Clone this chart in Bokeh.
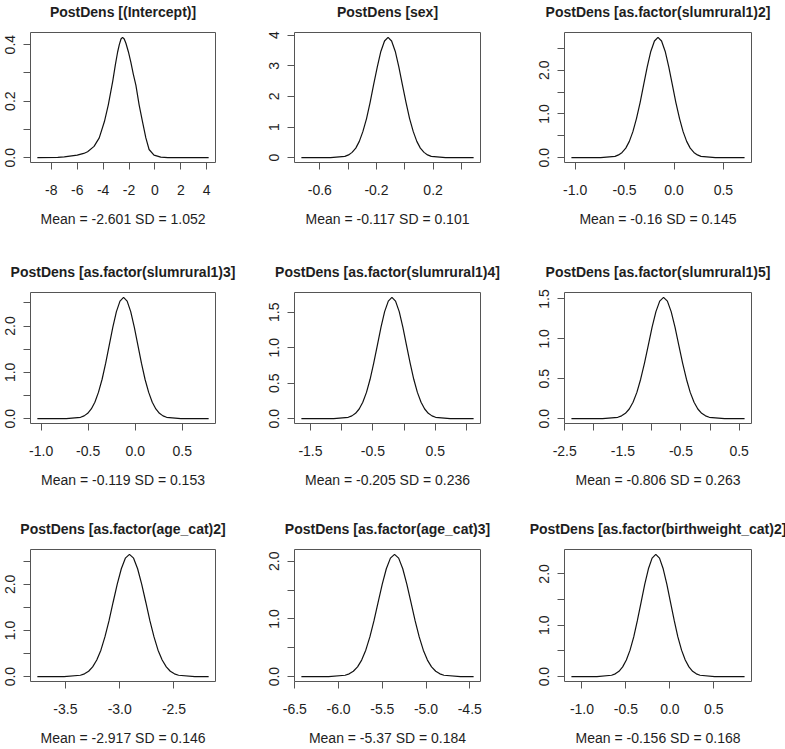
from bokeh.plotting import figure
from bokeh.layouts import column, row
from bokeh.models import Range1d, FixedTicker, Title
from bokeh.embed import file_html
from bokeh.resources import INLINE

# ---------------- data ----------------
titles = [
    "PostDens [(Intercept)]",
    "PostDens [sex]",
    "PostDens [as.factor(slumrural1)2]",
    "PostDens [as.factor(slumrural1)3]",
    "PostDens [as.factor(slumrural1)4]",
    "PostDens [as.factor(slumrural1)5]",
    "PostDens [as.factor(age_cat)2]",
    "PostDens [as.factor(age_cat)3]",
    "PostDens [as.factor(birthweight_cat)2]",
]
means = [-2.601, -0.117, -0.16, -0.119, -0.205, -0.806, -2.917, -5.37, -0.156]
sds = [1.052, 0.101, 0.145, 0.153, 0.236, 0.263, 0.146, 0.184, 0.168]

x_intercept = [-9.08, -7.5, -7.0, -6.0, -5.5, -5.2, -4.7, -4.3, -3.9, -3.6, -3.26, -3.05, -2.88,
               -2.75, -2.62, -2.5, -2.37, -2.24, -2.05, -1.86, -1.67, -1.47, -1.22, -0.96, -0.7,
               -0.45, -0.07, 0.45, 1.0, 4.15]
y_intercept = [0.0, 0.001, 0.003, 0.009, 0.015, 0.021, 0.04, 0.07, 0.128, 0.187, 0.27, 0.33, 0.374,
               0.40, 0.42, 0.426, 0.42, 0.405, 0.375, 0.338, 0.296, 0.257, 0.187, 0.128, 0.07,
               0.029, 0.009, 0.002, 0.0, 0.0]

x_sex = [-0.73, -0.524, -0.423, -0.397, -0.372, -0.346, -0.321, -0.296, -0.270, -0.245, -0.220,
         -0.194, -0.169, -0.143, -0.118, -0.093, -0.067, -0.042, -0.017, 0.009, 0.034, 0.060,
         0.085, 0.110, 0.136, 0.161, 0.187, 0.288, 0.486]
y_sex = [0.0, 0.001, 0.044, 0.090, 0.173, 0.313, 0.532, 0.850, 1.276, 1.799, 2.384, 2.966, 3.468,
         3.809, 3.93, 3.809, 3.468, 2.966, 2.384, 1.799, 1.276, 0.850, 0.532, 0.313, 0.173, 0.090,
         0.044, 0.001, 0.0]

x_slum2 = [-1.038, -0.742, -0.597, -0.561, -0.525, -0.488, -0.452, -0.416, -0.380, -0.343, -0.307,
           -0.271, -0.235, -0.198, -0.162, -0.126, -0.089, -0.053, -0.017, 0.019, 0.056, 0.092,
           0.128, 0.164, 0.201, 0.237, 0.273, 0.418, 0.714]
y_slum2 = [0.0, 0.001, 0.031, 0.063, 0.121, 0.219, 0.372, 0.595, 0.893, 1.259, 1.668, 2.076, 2.427,
           2.665, 2.75, 2.665, 2.427, 2.076, 1.668, 1.259, 0.893, 0.595, 0.372, 0.219, 0.121,
           0.063, 0.031, 0.001, 0.0]

x_slum3 = [-1.04, -0.733, -0.581, -0.543, -0.505, -0.467, -0.429, -0.391, -0.352, -0.314, -0.276,
           -0.238, -0.200, -0.162, -0.124, -0.086, -0.048, -0.010, 0.028, 0.066, 0.104, 0.143,
           0.181, 0.219, 0.257, 0.295, 0.333, 0.485, 0.78]
y_slum3 = [0.0, 0.001, 0.029, 0.060, 0.115, 0.209, 0.354, 0.567, 0.851, 1.199, 1.589, 1.978, 2.312,
           2.539, 2.62, 2.539, 2.312, 1.978, 1.589, 1.199, 0.851, 0.567, 0.354, 0.209, 0.115,
           0.060, 0.029, 0.001, 0.0]

x_slum4 = [-1.646, -1.128, -0.895, -0.837, -0.778, -0.720, -0.662, -0.603, -0.545, -0.487, -0.428,
           -0.370, -0.312, -0.253, -0.195, -0.137, -0.078, -0.020, 0.038, 0.097, 0.155, 0.213,
           0.272, 0.330, 0.388, 0.447, 0.505, 0.738, 1.114]
y_slum4 = [0.0, 0.001, 0.019, 0.039, 0.075, 0.136, 0.231, 0.370, 0.555, 0.783, 1.037, 1.291, 1.509,
           1.657, 1.71, 1.657, 1.509, 1.291, 1.037, 0.783, 0.555, 0.370, 0.231, 0.136, 0.075,
           0.039, 0.019, 0.001, 0.0]

x_slum5 = [-2.385, -1.850, -1.587, -1.522, -1.456, -1.390, -1.325, -1.259, -1.194, -1.128, -1.062,
           -0.997, -0.931, -0.866, -0.800, -0.734, -0.669, -0.603, -0.538, -0.472, -0.406, -0.341,
           -0.275, -0.210, -0.144, -0.078, -0.013, 0.250, 0.594]
y_slum5 = [0.0, 0.0, 0.017, 0.035, 0.067, 0.121, 0.206, 0.329, 0.494, 0.696, 0.922, 1.147, 1.341,
           1.473, 1.52, 1.473, 1.341, 1.147, 0.922, 0.696, 0.494, 0.329, 0.206, 0.121, 0.067,
           0.035, 0.017, 0.0, 0.0]

x_age2 = [-3.758, -3.512, -3.362, -3.324, -3.286, -3.249, -3.211, -3.173, -3.136, -3.098, -3.061,
          -3.023, -2.985, -2.948, -2.910, -2.872, -2.835, -2.797, -2.759, -2.722, -2.684, -2.647,
          -2.609, -2.571, -2.534, -2.496, -2.458, -2.308, -2.181]
y_age2 = [0.0, 0.001, 0.029, 0.060, 0.116, 0.211, 0.359, 0.573, 0.860, 1.213, 1.607, 2.000, 2.339,
          2.568, 2.65, 2.568, 2.339, 2.000, 1.607, 1.213, 0.860, 0.573, 0.359, 0.211, 0.116,
          0.060, 0.029, 0.001, 0.0]

x_age3 = [-6.425, -6.113, -5.925, -5.878, -5.831, -5.783, -5.736, -5.689, -5.642, -5.595, -5.548,
          -5.501, -5.454, -5.407, -5.360, -5.313, -5.266, -5.219, -5.172, -5.125, -5.078, -5.031,
          -4.984, -4.937, -4.889, -4.842, -4.795, -4.607, -4.456]
y_age3 = [0.0, 0.001, 0.024, 0.048, 0.093, 0.169, 0.287, 0.459, 0.688, 0.971, 1.286, 1.600, 1.871,
          2.055, 2.12, 2.055, 1.871, 1.600, 1.286, 0.971, 0.688, 0.459, 0.287, 0.169, 0.093,
          0.048, 0.024, 0.001, 0.0]

x_bw2 = [-1.12, -0.830, -0.663, -0.621, -0.579, -0.537, -0.495, -0.453, -0.411, -0.370, -0.328,
         -0.286, -0.244, -0.202, -0.160, -0.118, -0.076, -0.034, 0.008, 0.050, 0.091, 0.133,
         0.175, 0.217, 0.259, 0.301, 0.343, 0.510, 0.85]
y_bw2 = [0.0, 0.001, 0.026, 0.054, 0.104, 0.189, 0.322, 0.515, 0.773, 1.090, 1.443, 1.796, 2.100,
         2.307, 2.38, 2.307, 2.100, 1.796, 1.443, 1.090, 0.773, 0.515, 0.322, 0.189, 0.104,
         0.054, 0.026, 0.001, 0.0]

curves_x = [x_intercept, x_sex, x_slum2, x_slum3, x_slum4, x_slum5, x_age2, x_age3, x_bw2]
curves_y = [y_intercept, y_sex, y_slum2, y_slum3, y_slum4, y_slum5, y_age2, y_age3, y_bw2]

xticks = [
    [-8, -6, -4, -2, 0, 2, 4],
    [-0.6, -0.4, -0.2, 0.0, 0.2, 0.4],
    [-1.0, -0.5, 0.0, 0.5],
    [-1.0, -0.5, 0.0, 0.5],
    [-1.5, -1.0, -0.5, 0.0, 0.5, 1.0],
    [-2.5, -2.0, -1.5, -1.0, -0.5, 0.0, 0.5],
    [-3.5, -3.0, -2.5],
    [-6.5, -6.0, -5.5, -5.0, -4.5],
    [-1.0, -0.5, 0.0, 0.5],
]
xtick_labels = [
    ["-8", "-6", "-4", "-2", "0", "2", "4"],
    ["-0.6", "", "-0.2", "", "0.2", ""],
    ["-1.0", "-0.5", "0.0", "0.5"],
    ["-1.0", "-0.5", "0.0", "0.5"],
    ["-1.5", "", "-0.5", "", "0.5", ""],
    ["-2.5", "", "-1.5", "", "-0.5", "", "0.5"],
    ["-3.5", "-3.0", "-2.5"],
    ["-6.5", "-6.0", "-5.5", "-5.0", "-4.5"],
    ["-1.0", "-0.5", "0.0", "0.5"],
]
yticks = [
    [0.0, 0.1, 0.2, 0.3, 0.4],
    [0, 1, 2, 3, 4],
    [0.0, 0.5, 1.0, 1.5, 2.0, 2.5],
    [0.0, 0.5, 1.0, 1.5, 2.0, 2.5],
    [0.0, 0.5, 1.0, 1.5],
    [0.0, 0.5, 1.0, 1.5],
    [0.0, 0.5, 1.0, 1.5, 2.0, 2.5],
    [0.0, 0.5, 1.0, 1.5, 2.0],
    [0.0, 0.5, 1.0, 1.5, 2.0],
]
ytick_labels = [
    ["0.0", "", "0.2", "", "0.4"],
    ["0", "1", "2", "3", "4"],
    ["0.0", "", "1.0", "", "2.0", ""],
    ["0.0", "", "1.0", "", "2.0", ""],
    ["0.0", "0.5", "1.0", "1.5"],
    ["0.0", "0.5", "1.0", "1.5"],
    ["0.0", "", "1.0", "", "2.0", ""],
    ["0.0", "", "1.0", "", "2.0"],
    ["0.0", "", "1.0", "", "2.0"],
]

# ---------------- layout / style ----------------
FONT = "Liberation Sans"
TEXT = "#1e1e1e"
BOX = "#555555"

col_w = [262, 262, 261]
col_left = [30, 32, 40]
col_right = [47, 44, 34]
row_h = [250, 250, 249]
row_top = [32, 42, 49]
row_bot = [88, 77, 68]


def make_panel(i):
    r, c = divmod(i, 3)
    xs, ys = curves_x[i], curves_y[i]
    xmin, xmax = min(xs), max(xs)
    ymax = max(ys)
    dx = (xmax - xmin) * 0.04
    dy = ymax * 0.04
    p = figure(width=col_w[c], height=row_h[r], title=None,
               x_range=Range1d(xmin - dx, xmax + dx), y_range=Range1d(-dy, ymax + dy),
               output_backend="svg", toolbar_location=None,
               min_border_left=col_left[c], min_border_right=col_right[c],
               min_border_top=row_top[r], min_border_bottom=row_bot[r])
    p.background_fill_color = "white"
    p.border_fill_color = "white"
    p.outline_line_color = BOX
    p.outline_line_width = 1
    p.xgrid.grid_line_color = None
    p.ygrid.grid_line_color = None

    # thin spacer between frame and title, then the bold panel title
    p.add_layout(Title(text=" ", text_font_size="1px", standoff=10), "above")
    p.add_layout(Title(text=titles[i], align="center", standoff=0,
                       text_font=FONT, text_font_size="14px",
                       text_font_style="bold", text_color=TEXT), "above")

    p.line(xs, ys, line_color="#111111", line_width=1.2)

    xa = p.xaxis[0]
    xa.ticker = FixedTicker(ticks=xticks[i], minor_ticks=[])
    xa.major_label_overrides = {t: l for t, l in zip(xticks[i], xtick_labels[i])}
    xa.axis_line_color = None
    xa.major_tick_in = 0
    xa.major_tick_out = 7
    xa.major_tick_line_color = BOX
    xa.minor_tick_line_color = None
    xa.major_label_standoff = 15
    xa.major_label_text_font = FONT
    xa.major_label_text_font_size = "14px"
    xa.major_label_text_color = TEXT
    xa.axis_label = f"Mean = {means[i]} SD = {sds[i]}"
    xa.axis_label_text_font = FONT
    xa.axis_label_text_font_size = "14px"
    xa.axis_label_text_font_style = "normal"
    xa.axis_label_text_color = TEXT
    xa.axis_label_standoff = 13

    ya = p.yaxis[0]
    ya.ticker = FixedTicker(ticks=yticks[i], minor_ticks=[])
    ya.major_label_overrides = {t: l for t, l in zip(yticks[i], ytick_labels[i])}
    ya.axis_line_color = None
    ya.major_tick_in = 0
    ya.major_tick_out = 7
    ya.major_tick_line_color = BOX
    ya.minor_tick_line_color = None
    ya.major_label_orientation = "vertical"
    ya.major_label_standoff = 8
    ya.major_label_text_font = FONT
    ya.major_label_text_font_size = "14px"
    ya.major_label_text_color = TEXT
    return p


panels = [make_panel(i) for i in range(9)]
layout = column(row(*panels[0:3]), row(*panels[3:6]), row(*panels[6:9]))

open("out.html", "w").write(file_html(layout, INLINE))
